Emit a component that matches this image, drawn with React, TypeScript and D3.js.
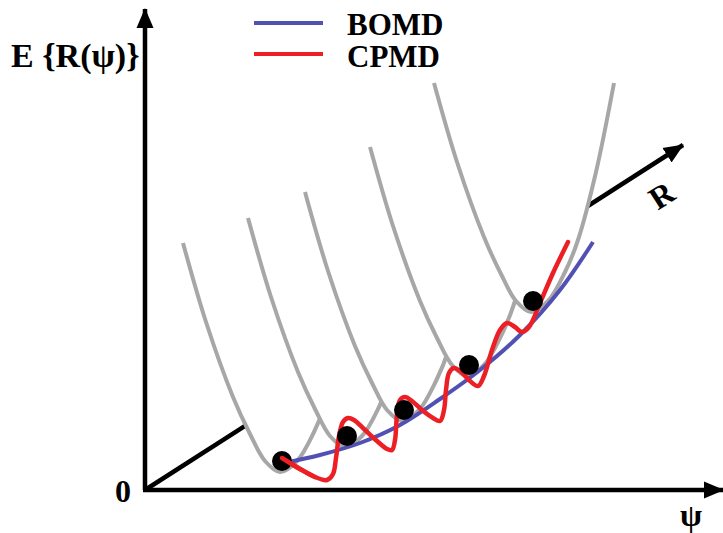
import * as d3 from "d3";

// schematic units: origin at the axes corner, x to the right, y upwards
const wellVertices = [
  [135, 18],
  [200, 43],
  [257, 69],
  [322, 114],
  [386, 178],
];

// one well profile (offset from its lowest point)
const wellShape = [
  [-97, 229], [-74, 150], [-47, 75], [-30, 38], [-15, 11], [0, 0],
  [17, 11], [34, 40], [47, 72], [65, 140], [83, 229],
];

const bomd = [
  [139, 27], [175, 35], [215, 47], [255, 65], [295, 91],
  [335, 120], [375, 155], [415, 200], [448, 248],
];

const cpmd = [
  [137, 32], [155, 21], [170, 13], [182, 10], [188, 16], [191, 32], [194, 54],
  [198, 68], [203, 72], [209, 70], [219, 61], [232, 49], [242, 41], [247, 40],
  [250, 50], [252, 75], [255, 90], [260, 93], [267, 89], [277, 80], [288, 72],
  [295, 69], [299, 80], [301, 100], [304, 117], [309, 122], [315, 119],
  [325, 109], [333, 104], [339, 114], [347, 140], [355, 160], [362, 167],
  [370, 163], [377, 158], [384, 163], [395, 187], [408, 217], [423, 248],
];

const ions = [
  [137, 29],
  [202, 54],
  [259, 80],
  [324, 125],
  [388, 189],
];

const rAxisEnd = [538, 345];
const legendItems = ["BOMD", "CPMD"];

const W = 723;
const H = 533;
const BLUE = "#5151b3";
const RED = "#ec1f24";
const GRAY = "#a7a7a7";
const FONT = "'Liberation Serif', 'Times New Roman', serif";

export default function App() {
  const x = d3.scaleLinear().domain([0, 578]).range([145, 723]);
  const y = d3.scaleLinear().domain([0, 481]).range([490, 9]);

  const line = d3
    .line<number[]>()
    .x((d) => x(d[0]))
    .y((d) => y(d[1]))
    .curve(d3.curveCatmullRom.alpha(0.5));

  const straight = d3
    .line<number[]>()
    .x((d) => x(d[0]))
    .y((d) => y(d[1]));

  const rAngle =
    (Math.atan2(y(rAxisEnd[1]) - y(0), x(rAxisEnd[0]) - x(0)) * 180) / Math.PI;

  return (
    <svg
      width={W}
      height={H}
      style={{ position: "absolute", left: 0, top: 0, background: "#fff" }}
    >
      <defs>
        <marker
          id="arrow"
          viewBox="0 -9 20 18"
          refX={19}
          refY={0}
          markerWidth={20}
          markerHeight={18}
          markerUnits="userSpaceOnUse"
          orient="auto"
        >
          <path d="M0,-8.5L20,0L0,8.5Z" fill="#000" />
        </marker>
      </defs>

      {/* R axis, partly hidden behind the wells */}
      <path
        d={straight([[0, 0], rAxisEnd])!}
        stroke="#000"
        strokeWidth={4.5}
        markerEnd="url(#arrow)"
      />

      {/* wells, front to back; the white cup hides what lies behind */}
      {wellVertices.map((v, i) => (
        <path
          key={i}
          d={line(wellShape.map((p) => [v[0] + p[0], v[1] + p[1]]))!}
          fill="#fff"
          stroke={GRAY}
          strokeWidth={4}
        />
      ))}

      {/* axes */}
      <path
        d={straight([[0, 0], [0, 481]])!}
        stroke="#000"
        strokeWidth={4.5}
        markerEnd="url(#arrow)"
      />
      <path
        d={straight([[-2, 0], [578, 0]])!}
        stroke="#000"
        strokeWidth={4.5}
        markerEnd="url(#arrow)"
      />

      <path d={line(bomd)!} fill="none" stroke={BLUE} strokeWidth={4} />
      <path
        d={line(cpmd)!}
        fill="none"
        stroke={RED}
        strokeWidth={4.5}
        strokeLinecap="round"
        strokeLinejoin="round"
      />

      {ions.map((d, i) => (
        <circle key={i} cx={x(d[0])} cy={y(d[1])} r={10} fill="#000" />
      ))}
      {/* red line starts on top of the first ion */}
      <path
        d={line(cpmd.slice(0, 3))!}
        fill="none"
        stroke={RED}
        strokeWidth={4.5}
        strokeLinecap="round"
      />

      {/* legend */}
      {legendItems.map((name, i) => (
        <g key={name}>
          <line
            x1={254}
            x2={323}
            y1={23 + i * 31}
            y2={23 + i * 31}
            stroke={i === 0 ? BLUE : RED}
            strokeWidth={4}
          />
          <text
            x={347}
            y={35 + i * 32}
            fontFamily={FONT}
            fontWeight="bold"
            fontSize={31}
          >
            {name}
          </text>
        </g>
      ))}

      {/* labels */}
      <text x={11} y={67} fontFamily={FONT} fontWeight="bold" fontSize={34}>
        E {"{"}R(ψ){"}"}
      </text>
      <text
        x={123}
        y={502}
        textAnchor="middle"
        fontFamily={FONT}
        fontWeight="bold"
        fontSize={32}
      >
        0
      </text>
      <text
        x={691}
        y={526}
        textAnchor="middle"
        fontFamily={FONT}
        fontWeight="bold"
        fontSize={32}
      >
        ψ
      </text>
      <text
        x={662}
        y={206}
        textAnchor="middle"
        transform={`rotate(${rAngle}, 662, 196)`}
        fontFamily={FONT}
        fontWeight="bold"
        fontSize={32}
      >
        R
      </text>
    </svg>
  );
}
